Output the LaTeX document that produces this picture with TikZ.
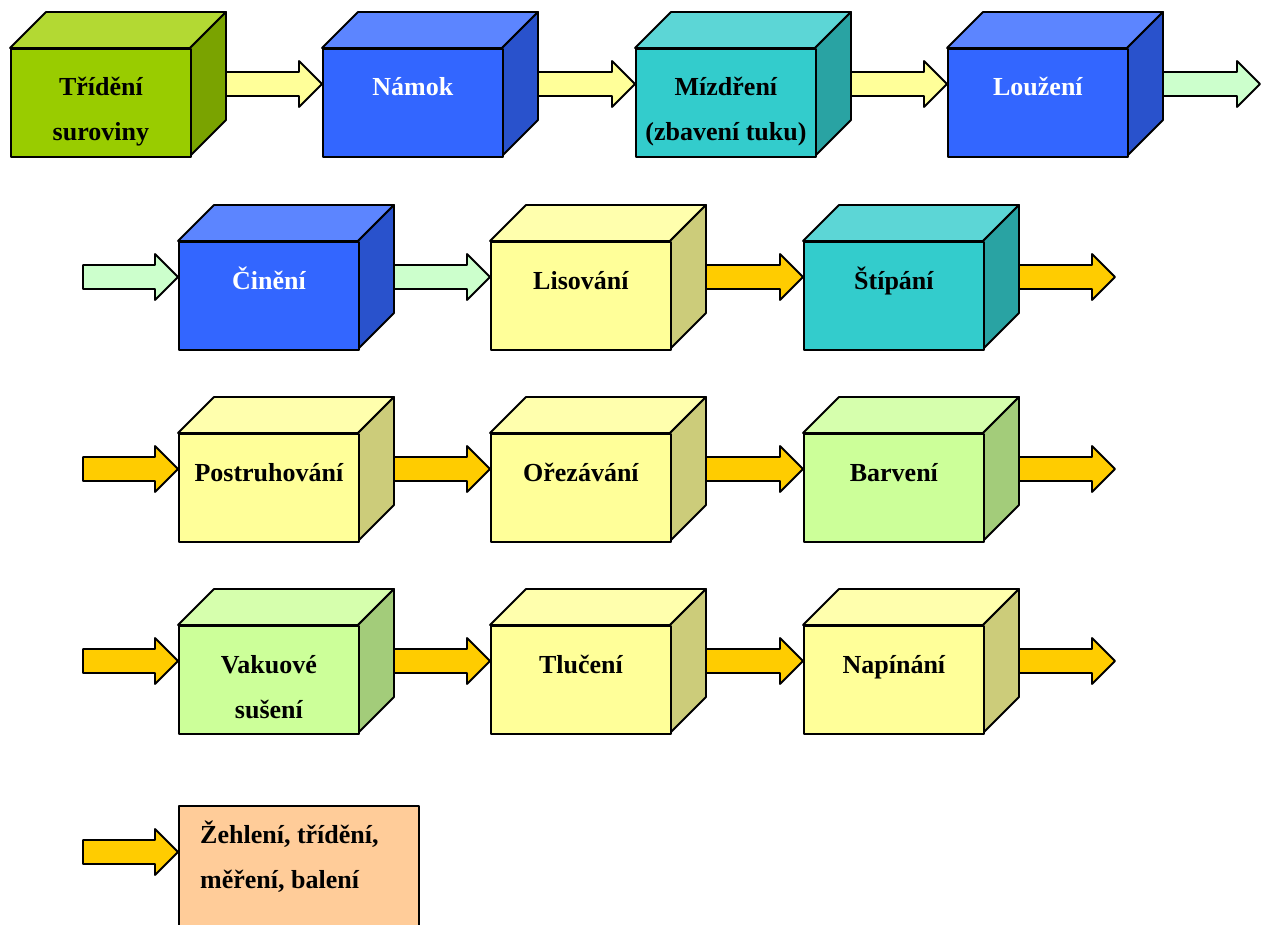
\documentclass[tikz,border=0pt]{standalone}
\usepackage{fontspec}
\setmainfont{Liberation Serif}
\usetikzlibrary{calc}

% front / top / side shades
\definecolor{limeF}{HTML}{99CC00}
\definecolor{limeT}{HTML}{B3D933}
\definecolor{limeS}{HTML}{7AA300}
\definecolor{royalF}{HTML}{3366FF}
\definecolor{royalT}{HTML}{5C85FF}
\definecolor{royalS}{HTML}{2952CC}
\definecolor{aquaF}{HTML}{33CCCC}
\definecolor{aquaT}{HTML}{5CD6D6}
\definecolor{aquaS}{HTML}{29A3A3}
\definecolor{creamF}{HTML}{FFFF99}
\definecolor{creamT}{HTML}{FFFFAD}
\definecolor{creamS}{HTML}{CCCC7A}
\definecolor{mintF}{HTML}{CCFF99}
\definecolor{mintT}{HTML}{D6FFAD}
\definecolor{mintS}{HTML}{A3CC7A}
\definecolor{peach}{HTML}{FFCC99}
\definecolor{arrowYellow}{HTML}{FFFF99}
\definecolor{arrowMint}{HTML}{CCFFCC}
\definecolor{arrowGold}{HTML}{FFCC00}

\tikzset{
  cubeline/.style={draw=black, line width=1.8pt, line join=round},
  front/.style={cubeline, rectangle, anchor=north west, inner sep=0pt,
    minimum width=180pt, minimum height=108pt},
  lbl/.style={anchor=base, inner sep=0pt,
    font=\bfseries\fontsize{26}{45}\selectfont}
}

% name, x, y (front top left), shade, text colour, text
\newcommand{\cube}[6]{%
  \filldraw[cubeline, fill=#4T] (#2,#3) -- ++(36,-36) -- ++(180,0) -- ++(-36,36) -- cycle;
  \filldraw[cubeline, fill=#4S] (#2+180,#3) -- ++(36,-36) -- ++(0,108) -- ++(-36,36) -- cycle;
  \node[front, fill=#4F] (#1) at (#2,#3) {};
  \coordinate (#1-in) at (#2,#3+36);
  \coordinate (#1-out) at (#2+216,#3+36);
  \node[lbl, text=#5] (#1-txt) at ([yshift=-48pt]#1.north)
    {\begin{tabular}[t]{@{}c@{}}#6\end{tabular}};
}

% block arrow from one point to the next
\newcommand{\flow}[3]{%
  \filldraw[cubeline, fill=#3] let \p1=(#1), \p2=(#2) in
    (\x1,\y1+12pt) -- (\x2-23pt,\y1+12pt) -- (\x2-23pt,\y1+23pt) -- (\x2,\y1)
    -- (\x2-23pt,\y1-23pt) -- (\x2-23pt,\y1-12pt) -- (\x1,\y1-12pt) -- cycle;
}

\begin{document}
\begin{tikzpicture}[x=1pt, y=-1pt]
  \useasboundingbox (0,0) rectangle (1268,925);

  % row 1
  \cube{trideni}{10}{48}{lime}{black}{Třídění\\suroviny}
  \cube{namok}{322}{48}{royal}{white}{Námok}
  \cube{mizdreni}{635}{48}{aqua}{black}{Mízdření\\(zbavení tuku)}
  \cube{louzeni}{947}{48}{royal}{white}{Loužení}
  \coordinate (end1) at (1260,84);
  \flow{trideni-out}{namok-in}{arrowYellow}
  \flow{namok-out}{mizdreni-in}{arrowYellow}
  \flow{mizdreni-out}{louzeni-in}{arrowYellow}
  \flow{louzeni-out}{end1}{arrowMint}

  % row 2
  \coordinate (start2) at (83,277);
  \coordinate (end2) at (1115,277);
  \cube{cineni}{178}{241}{royal}{white}{Činění}
  \cube{lisovani}{490}{241}{cream}{black}{Lisování}
  \cube{stipani}{803}{241}{aqua}{black}{Štípání}
  \flow{start2}{cineni-in}{arrowMint}
  \flow{cineni-out}{lisovani-in}{arrowMint}
  \flow{lisovani-out}{stipani-in}{arrowGold}
  \flow{stipani-out}{end2}{arrowGold}

  % row 3
  \coordinate (start3) at (83,469);
  \coordinate (end3) at (1115,469);
  \cube{postruhovani}{178}{433}{cream}{black}{Postruhování}
  \cube{orezavani}{490}{433}{cream}{black}{Ořezávání}
  \cube{barveni}{803}{433}{mint}{black}{Barvení}
  \flow{start3}{postruhovani-in}{arrowGold}
  \flow{postruhovani-out}{orezavani-in}{arrowGold}
  \flow{orezavani-out}{barveni-in}{arrowGold}
  \flow{barveni-out}{end3}{arrowGold}

  % row 4
  \coordinate (start4) at (83,661);
  \coordinate (end4) at (1115,661);
  \cube{vakuove}{178}{625}{mint}{black}{Vakuové\\sušení}
  \cube{tluceni}{490}{625}{cream}{black}{Tlučení}
  \cube{napinani}{803}{625}{cream}{black}{Napínání}
  \flow{start4}{vakuove-in}{arrowGold}
  \flow{vakuove-out}{tluceni-in}{arrowGold}
  \flow{tluceni-out}{napinani-in}{arrowGold}
  \flow{napinani-out}{end4}{arrowGold}

  % last step
  \coordinate (start5) at (83,852);
  \node[cubeline, fill=peach, anchor=north west, inner sep=0pt,
    minimum width=240pt, minimum height=140pt] (zehleni) at (178,805) {};
  \coordinate (zehleni-in) at (178,852);
  \node[lbl, anchor=base west] (zehleni-txt) at (200,843)
    {\begin{tabular}[t]{@{}l@{}}Žehlení, třídění,\\měření, balení\end{tabular}};
  \flow{start5}{zehleni-in}{arrowGold}
\end{tikzpicture}
\end{document}
